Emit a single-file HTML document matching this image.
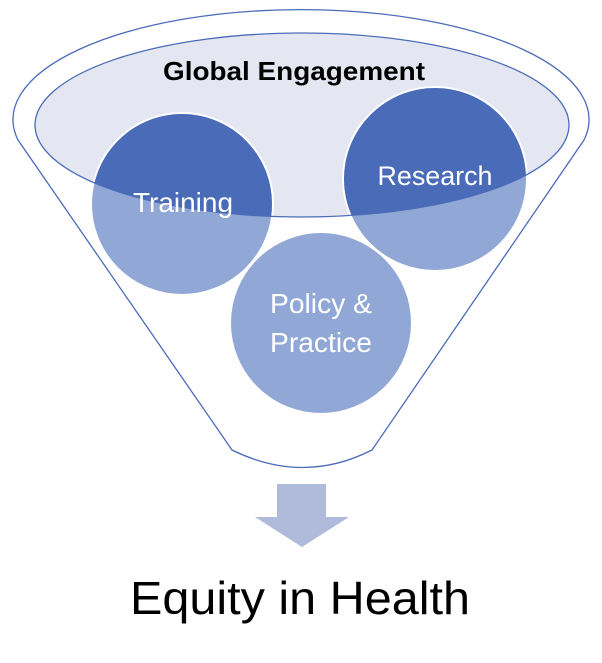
<!DOCTYPE html>
<html><head><style>body{margin:0;background:#fff}svg{display:block}</style></head><body>
<svg width="602" height="663" viewBox="0 0 602 663" xmlns="http://www.w3.org/2000/svg">
<defs><clipPath id="c"><ellipse cx="302" cy="125" rx="267" ry="92"/></clipPath></defs>
<path d="M18,140 A288,110 0 1 1 584,140 L372,450 Q303,485 232,450 Z" fill="#fff" stroke="#4a6cb8" stroke-width="1.3"/>
<ellipse cx="302" cy="125" rx="267" ry="92" fill="#e4e7f2"/>
<g fill="#91a7d5" stroke="#fff" stroke-width="2">
<circle cx="182" cy="204" r="91"/>
<circle cx="435" cy="179" r="92"/>
<circle cx="321" cy="323" r="91"/>
</g>
<g fill="#4a6cb8" clip-path="url(#c)">
<circle cx="182" cy="204" r="90"/>
<circle cx="435" cy="179" r="91"/>
</g>
<ellipse cx="302" cy="125" rx="267" ry="92" fill="none" stroke="#4a6cb8" stroke-width="1.3"/>
<path d="M277,484 H326 V517 H349 L302,547 L255,517 H277 Z" fill="#b0bbdc"/>
<g font-family="Liberation Sans, sans-serif" text-anchor="middle">
<text x="294" y="80" font-size="26" font-weight="bold" fill="#000" textLength="262" lengthAdjust="spacingAndGlyphs">Global Engagement</text>
<text x="183" y="212" font-size="28" fill="#fff" textLength="100" lengthAdjust="spacingAndGlyphs">Training</text>
<text x="435" y="185" font-size="27" fill="#fff" textLength="115" lengthAdjust="spacingAndGlyphs">Research</text>
<text x="321" y="313" font-size="28" fill="#fff" textLength="102" lengthAdjust="spacingAndGlyphs">Policy &amp;</text>
<text x="321" y="352" font-size="28" fill="#fff" textLength="102" lengthAdjust="spacingAndGlyphs">Practice</text>
<text x="300" y="614" font-size="46" fill="#000" textLength="340" lengthAdjust="spacingAndGlyphs">Equity in Health</text>
</g>
</svg>
</body></html>
